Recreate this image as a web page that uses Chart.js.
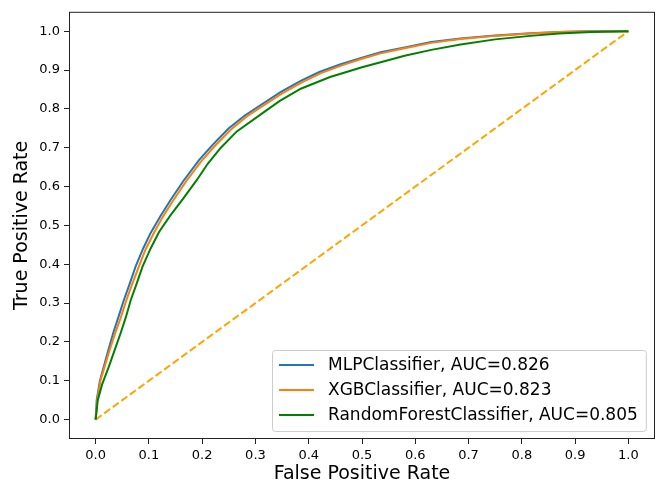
<!DOCTYPE html>
<html>
<head>
<meta charset="utf-8">
<script src="https://cdn.jsdelivr.net/npm/chart.js@4.4.0/dist/chart.umd.min.js"></script>
<style>
  html, body { margin: 0; padding: 0; background: #fff; }
</style>
</head>
<body>
<canvas id="rocChart" width="664" height="484"></canvas>
<script>
// ROC curve points (false positive rate / true positive rate)
const mlpFpr = [0, 0.002, 0.008, 0.016, 0.024, 0.033, 0.043, 0.053, 0.064, 0.075, 0.089, 0.103, 0.122, 0.141, 0.165, 0.194, 0.22, 0.25, 0.28, 0.31, 0.347, 0.385, 0.42, 0.46, 0.50, 0.535, 0.58, 0.63, 0.685, 0.75, 0.816, 0.87, 0.92, 1.0];
const mlpTpr = [0, 0.05, 0.10, 0.14, 0.18, 0.223, 0.265, 0.308, 0.35, 0.394, 0.44, 0.48, 0.525, 0.566, 0.615, 0.668, 0.708, 0.75, 0.783, 0.81, 0.843, 0.872, 0.895, 0.915, 0.932, 0.946, 0.958, 0.972, 0.981, 0.989, 0.995, 0.998, 1.0, 1.0];

const xgbFpr = [0, 0.003, 0.009, 0.017, 0.026, 0.036, 0.047, 0.057, 0.068, 0.080, 0.093, 0.108, 0.126, 0.145, 0.169, 0.198, 0.224, 0.254, 0.283, 0.313, 0.35, 0.388, 0.423, 0.462, 0.50, 0.535, 0.58, 0.63, 0.685, 0.75, 0.816, 0.87, 0.92, 1.0];
const xgbTpr = [0, 0.05, 0.10, 0.137, 0.178, 0.22, 0.262, 0.305, 0.347, 0.39, 0.436, 0.477, 0.522, 0.563, 0.612, 0.665, 0.705, 0.747, 0.78, 0.807, 0.84, 0.869, 0.892, 0.912, 0.929, 0.943, 0.956, 0.97, 0.98, 0.988, 0.994, 0.998, 0.999, 1.0];

const rfFpr = [0, 0.004, 0.012, 0.025, 0.036, 0.047, 0.057, 0.066, 0.077, 0.088, 0.103, 0.119, 0.14, 0.165, 0.19, 0.21, 0.235, 0.265, 0.31, 0.345, 0.385, 0.44, 0.50, 0.535, 0.58, 0.63, 0.685, 0.75, 0.816, 0.87, 0.93, 1.0];
const rfTpr = [0, 0.05, 0.09, 0.137, 0.18, 0.223, 0.265, 0.308, 0.35, 0.394, 0.44, 0.483, 0.525, 0.57, 0.617, 0.658, 0.70, 0.742, 0.786, 0.82, 0.852, 0.882, 0.907, 0.92, 0.937, 0.952, 0.966, 0.979, 0.988, 0.994, 0.998, 1.0];

const chanceFpr = [0, 1];
const chanceTpr = [0, 1];

const legendLabels = ['MLPClassifier, AUC=0.826', 'XGBClassifier, AUC=0.823', 'RandomForestClassifier, AUC=0.805'];
const seriesColors = ['#1f77b4', '#ff7f0e', '#008000'];

const xTicks = [0, 0.1, 0.2, 0.3, 0.4, 0.5, 0.6, 0.7, 0.8, 0.9, 1.0];
const yTicks = [0, 0.1, 0.2, 0.3, 0.4, 0.5, 0.6, 0.7, 0.8, 0.9, 1.0];

function toPoints(xs, ys) {
    return xs.map((x, i) => ({ x: x, y: ys[i] }));
}

// box around the axes, like matplotlib spines
const frameBox = {
    id: 'frameBox',
    afterDraw(chart) {
        const { ctx, chartArea } = chart;
        ctx.save();
        ctx.strokeStyle = '#222';
        ctx.lineWidth = 1;
        ctx.strokeRect(chartArea.left + 0.5, chartArea.top + 0.5,
            chartArea.right - chartArea.left - 1, chartArea.bottom - chartArea.top - 1);
        ctx.restore();
    }
};

// legend drawn inside the plot, lower right
const insideLegend = {
    id: 'insideLegend',
    afterDraw(chart) {
        const ctx = chart.ctx;
        const area = chart.chartArea;
        ctx.save();
        ctx.font = '17px "DejaVu Sans"';
        const textW = Math.max(...legendLabels.map(t => ctx.measureText(t).width));
        const boxW = 7 + 35 + 14 + textW + 8;
        const boxH = 81;
        const x0 = Math.round(area.right - 9 - boxW);
        const y0 = Math.round(area.bottom - 8 - boxH);

        ctx.fillStyle = 'rgba(255,255,255,0.8)';
        ctx.strokeStyle = '#cccccc';
        ctx.lineWidth = 1;
        ctx.beginPath();
        ctx.roundRect(x0 + 0.5, y0 + 0.5, boxW, boxH, 3);
        ctx.fill();
        ctx.stroke();

        legendLabels.forEach((label, i) => {
            const cy = y0 + 15 + i * 25;
            ctx.strokeStyle = seriesColors[i];
            ctx.lineWidth = 2;
            ctx.beginPath();
            ctx.moveTo(x0 + 7, cy);
            ctx.lineTo(x0 + 42, cy);
            ctx.stroke();
            ctx.fillStyle = '#000';
            ctx.textBaseline = 'middle';
            ctx.textAlign = 'left';
            ctx.fillText(label, x0 + 56, cy + 1);
        });
        ctx.restore();
    }
};

const ctx = document.getElementById('rocChart').getContext('2d');
const rocChart = new Chart(ctx, {
    type: 'scatter',
    data: {
        datasets: [
            {
                label: legendLabels[0],
                data: toPoints(mlpFpr, mlpTpr),
                borderColor: seriesColors[0],
                backgroundColor: seriesColors[0],
                order: 3
            },
            {
                label: legendLabels[1],
                data: toPoints(xgbFpr, xgbTpr),
                borderColor: seriesColors[1],
                backgroundColor: seriesColors[1],
                order: 2
            },
            {
                label: legendLabels[2],
                data: toPoints(rfFpr, rfTpr),
                borderColor: seriesColors[2],
                backgroundColor: seriesColors[2],
                order: 1
            },
            {
                label: 'chance',
                data: toPoints(chanceFpr, chanceTpr),
                borderColor: '#ffa500',
                backgroundColor: '#ffa500',
                borderDash: [7.4, 3.2],
                order: 4
            }
        ]
    },
    options: {
        responsive: false,
        animation: false,
        showLine: true,
        devicePixelRatio: 1,
        elements: {
            point: { radius: 0, hoverRadius: 0 },
            line: { borderWidth: 2, tension: 0 }
        },
        layout: { padding: { top: 11, right: 9, left: 0, bottom: 0 } },
        plugins: {
            legend: { display: false },
            tooltip: { enabled: false }
        },
        scales: {
            x: {
                type: 'linear',
                min: -0.05,
                max: 1.05,
                afterBuildTicks: axis => { axis.ticks = xTicks.map(v => ({ value: v })); },
                afterFit: axis => { axis.height = 45; },
                border: { display: false },
                grid: { drawOnChartArea: false, drawTicks: true, tickLength: 5, color: '#222' },
                ticks: {
                    color: '#000',
                    padding: 4,
                    maxRotation: 0,
                    font: { family: 'DejaVu Sans', size: 13 },
                    callback: v => v.toFixed(1)
                },
                title: {
                    display: true,
                    text: 'False Positive Rate',
                    color: '#000',
                    padding: { top: 0, bottom: 0 },
                    font: { family: 'DejaVu Sans', size: 19, lineHeight: 1 }
                }
            },
            y: {
                type: 'linear',
                min: -0.05,
                max: 1.05,
                afterBuildTicks: axis => { axis.ticks = yTicks.map(v => ({ value: v })); },
                afterFit: axis => { axis.width = 69; },
                border: { display: false },
                grid: { drawOnChartArea: false, drawTicks: true, tickLength: 5, color: '#222' },
                ticks: {
                    color: '#000',
                    padding: 4,
                    font: { family: 'DejaVu Sans', size: 13 },
                    callback: v => v.toFixed(1)
                },
                title: {
                    display: true,
                    text: 'True Positive Rate',
                    color: '#000',
                    padding: { top: 13, bottom: 0 },
                    font: { family: 'DejaVu Sans', size: 19, lineHeight: 1 }
                }
            }
        }
    },
    plugins: [frameBox, insideLegend]
});
</script>
</body>
</html>
